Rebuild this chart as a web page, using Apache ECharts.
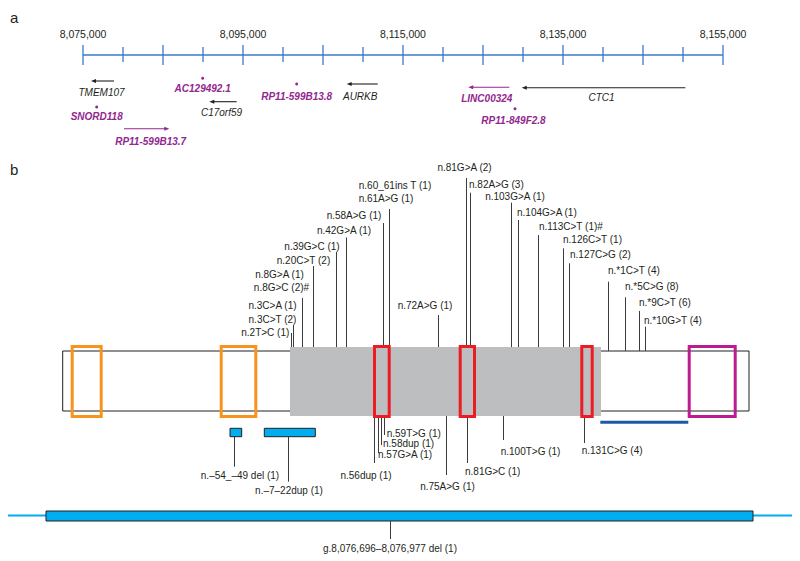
<!DOCTYPE html>
<html>
<head>
<meta charset="utf-8">
<script src="https://cdn.jsdelivr.net/npm/echarts@6/dist/echarts.min.js"></script>
<style>html,body{margin:0;padding:0;background:#fff}#c{width:800px;height:561px}</style>
</head>
<body>
<div id="c"></div>
<script>
// ================= DATA =================
// Panel a: genomic axis (chr17, bp)
const genomeMin = 8075000;
const genomeMax = 8155000;
const tickValues = [8075000, 8080000, 8085000, 8090000, 8095000, 8100000, 8105000, 8110000, 8115000,
                    8120000, 8125000, 8130000, 8135000, 8140000, 8145000, 8150000, 8155000];
const tickLabelValues = [8075000, 8095000, 8115000, 8135000, 8155000];
const tickLabels = ['8,075,000', '8,095,000', '8,115,000', '8,135,000', '8,155,000'];

// Genes (start/end in bp, strand, kind)
const geneNames  = ['TMEM107', 'SNORD118', 'RP11-599B13.7', 'AC129492.1', 'C17orf59',
                    'RP11-599B13.8', 'AURKB', 'LINC00324', 'CTC1', 'RP11-849F2.8'];
const geneStart  = [8076000, 8076710, 8080120, 8089960, 8090790, 8101710, 8107960, 8123160, 8129840, 8129000];
const geneEnd    = [8078880, 8076710, 8085790, 8089960, 8094210, 8101710, 8111840, 8128290, 8150290, 8129000];
const geneStrand = ['-', '.', '+', '.', '-', '.', '-', '-', '-', '.'];
const geneKind   = ['coding', 'nc', 'nc', 'nc', 'coding', 'nc', 'coding', 'nc', 'coding', 'nc'];

// Panel b: variants on the schematic transcript (schematic x positions)
const upperVariantPos = [291, 292.7, 301.7, 312.7, 336, 346, 382.7, 388.7, 437.7, 465.7,
                         469.7, 510.7, 517.7, 537.7, 563.3, 569, 608.3, 625, 639.3, 645.3];
const upperLabels = ['n.2T>C (1)', 'n.3C>T (2)', 'n.3C>A (1)', 'n.8G>C (2)#', 'n.8G>A (1)',
                     'n.20C>T (2)', 'n.39G>C (1)', 'n.42G>A (1)', 'n.58A>G (1)', 'n.61A>G (1)',
                     'n.60_61ins T (1)', 'n.72A>G (1)', 'n.81G>A (2)', 'n.82A>G (3)', 'n.103G>A (1)',
                     'n.104G>A (1)', 'n.113C>T (1)#', 'n.126C>T (1)', 'n.127C>G (2)', 'n.*1C>T (4)',
                     'n.*5C>G (8)', 'n.*9C>T (6)', 'n.*10G>T (4)'];
const lowerVariantPos = [374.3, 377.7, 381, 384.3, 446, 466.7, 502.7, 584, 234.3, 287.7];
const lowerLabels = ['n.56dup (1)', 'n.57G>A (1)', 'n.58dup (1)', 'n.59T>G (1)', 'n.75A>G (1)',
                     'n.81G>C (1)', 'n.100T>G (1)', 'n.131C>G (4)', 'n.\u201354_\u201349 del (1)', 'n.\u20137\u201322dup (1)'];
const bottomVariantPos = [390];
const bottomLabels = ['g.8,076,696\u20138,076,977 del (1)'];

// ================= LAYOUT (positions / styles) =================
const INK = '#231f20', PURPLE = '#92278f', STEM = '#3b3b3d';
const FONT = '"Liberation Sans", Arial, Helvetica, sans-serif';

const axisRowY = 55;
const geneRowY    = [81, 107, 128.7, 78.3, 101.7, 84, 84, 87.3, 87.7, 108.7];
const geneLabelY  = [92.3, 116.3, 141, 88.7, 112.7, 96, 96.7, 98.7, 97, 120];
const geneLabelDx = [-1, 0, 4, 0, -1.5, 0, -2, -2, -2, -1.5];

const upperStemTop  = [333, 325, 298, 266, 252, 237.5, 223, 209, 315, 178, 192.7, 202.7, 220, 235, 248.3, 263.3, 281.7, 297.3, 311, 326.7];
const upperStemBase = [347, 347, 347, 347, 347, 347, 345, 345, 347, 345, 345, 347, 347, 347, 347, 347, 351, 351, 351, 351];
const upperLabelX = [265.3, 272.5, 272.5, 281.5, 279.5, 303.5, 312, 344, 354, 386, 395, 425, 464.5,
                     469, 515, 517, 539, 563, 570, 608, 625, 639, 644];
const upperLabelAlign = ['center','center','center','center','center','center','center','center','center','center','center','center','center',
                         'left','center','left','left','left','left','left','left','left','left'];
const upperLabelY = [332, 319, 305, 287, 274, 260.5, 246, 230.5, 215, 198.5, 185, 305, 167, 184, 196, 212, 226, 239, 254.3, 270, 286, 302.3, 320.7];

const lowerStemTop = [418, 418, 418, 418, 416, 418, 416, 418, 436.7, 436.7];
const lowerStemEnd = [463, 453, 445, 435, 475, 463, 440, 443, 466.7, 481.7];
const lowerLabelX = [366, 378, 383, 386.7, 447.5, 465, 500.7, 581.7, 240, 289];
const lowerLabelAlign = ['center','left','left','left','center','left','left','left','center','center'];
const lowerLabelY = [475, 454, 443.5, 433.3, 486.7, 471, 451.7, 450, 475.7, 490.7];

// schematic boxes: [x1, x2, y1, y2]
const whiteBox  = [[62.7, 749, 351, 411]];
const grayBox   = [[290, 601, 347, 416]];
const orangeBox = [[72.2, 101.2, 346.5, 416.5], [221.2, 255.8, 346.5, 416.5]];
const redBox    = [[374.5, 389.2, 346.5, 416.5], [460.2, 474.5, 346.5, 416.5], [581.8, 592.2, 346.5, 416.5]];
const magentaBox= [[689.2, 735.2, 346.5, 416.5]];
const cyanSmall = [[230, 241.7, 428.3, 436.7], [264.3, 315.3, 428.3, 436.7]];
const blueBar   = [[600.3, 688.3, 422.3]];
const genomeLine= [[8, 792, 515.5]];
const delBox    = [[46, 753, 511, 521]];

// ================= CHART =================
const chart = echarts.init(document.getElementById('c'), null, {renderer: 'svg', width: 800, height: 561});

function textEl(x, y, text, opt) {
  return {
    type: 'text', x: x, y: y,
    style: Object.assign({
      text: text, fill: INK,
      font: (opt.style || '') + ' ' + (opt.weight || 'normal') + ' ' + (opt.size || 10) + 'px ' + FONT,
      align: opt.align || 'center', verticalAlign: 'middle',
      textAlign: opt.align || 'center', textVerticalAlign: 'middle'
    }, opt.fill ? {fill: opt.fill} : {})
  };
}

function rectSeries(items, style, gi) {
  return {
    type: 'custom', coordinateSystem: 'cartesian2d', xAxisIndex: gi, yAxisIndex: gi,
    silent: true, animation: false, clip: false,
    data: items.map(r => [r[0], r[2], r[1], r[3]]),
    renderItem: (p, api) => {
      const a = api.coord([api.value(0), api.value(1)]);
      const b = api.coord([api.value(2), api.value(3)]);
      return {type: 'rect', shape: {x: Math.min(a[0], b[0]), y: Math.min(a[1], b[1]),
              width: Math.abs(b[0] - a[0]), height: Math.abs(b[1] - a[1])}, style: style};
    }
  };
}

function hLineSeries(items, style, gi) {
  return {
    type: 'custom', coordinateSystem: 'cartesian2d', xAxisIndex: gi, yAxisIndex: gi,
    silent: true, animation: false, clip: false,
    data: items.map(r => [r[0], r[2], r[1]]),
    renderItem: (p, api) => {
      const a = api.coord([api.value(0), api.value(1)]);
      const b = api.coord([api.value(2), api.value(1)]);
      return {type: 'line', shape: {x1: a[0], y1: a[1], x2: b[0], y2: b[1]}, style: style};
    }
  };
}

// vertical stems: x value, y from, y to
function stemSeries(xs, y1s, y2s, style, gi) {
  return {
    type: 'custom', coordinateSystem: 'cartesian2d', xAxisIndex: gi, yAxisIndex: gi,
    silent: true, animation: false, clip: false,
    data: xs.map((x, i) => [x, y1s[i], y2s[i]]),
    renderItem: (p, api) => {
      const a = api.coord([api.value(0), api.value(1)]);
      const b = api.coord([api.value(0), api.value(2)]);
      const x = Math.round(a[0]) + 0.5;
      return {type: 'line', shape: {x1: x, y1: a[1], x2: x, y2: b[1]}, style: style};
    }
  };
}

function labelSeries(xs, ys, texts, aligns, opt, gi) {
  return {
    type: 'custom', coordinateSystem: 'cartesian2d', xAxisIndex: gi, yAxisIndex: gi,
    silent: true, animation: false, clip: false,
    data: xs.map((x, i) => [x, ys[i]]),
    renderItem: (p, api) => {
      const i = p.dataIndex;
      const a = api.coord([api.value(0), api.value(1)]);
      return textEl(a[0], a[1], texts[i], Object.assign({}, opt, {align: aligns ? aligns[i] : 'center'}));
    }
  };
}

const series = [];

// ---- Panel a ----
// axis line
series.push(hLineSeries([[genomeMin, genomeMax, axisRowY]], {stroke: '#3a7bc8', lineWidth: 1.5}, 0));
// ticks
series.push({
  type: 'custom', coordinateSystem: 'cartesian2d', xAxisIndex: 0, yAxisIndex: 0,
  silent: true, animation: false, clip: false,
  data: tickValues.map(v => [v, axisRowY]),
  renderItem: (p, api) => {
    const v = api.value(0);
    const major = (v - genomeMin) % 10000 === 0;
    const a = api.coord([v, axisRowY - (major ? 10 : 8)]);
    const b = api.coord([v, axisRowY + (major ? 10 : 7)]);
    const x = Math.round(a[0]);
    return {type: 'line', shape: {x1: x, y1: a[1], x2: x, y2: b[1]}, style: {stroke: '#3a7bc8', lineWidth: 1.3}};
  }
});
// tick labels
series.push(labelSeries(tickLabelValues, tickLabelValues.map(() => 34), tickLabels, null, {size: 10.5}, 0));
// genes
series.push({
  type: 'custom', coordinateSystem: 'cartesian2d', xAxisIndex: 0, yAxisIndex: 0,
  silent: true, animation: false, clip: false,
  data: geneStart.map((s, i) => [s, geneRowY[i], geneEnd[i]]),
  renderItem: (p, api) => {
    const i = p.dataIndex;
    const a = api.coord([api.value(0), api.value(1)]);
    const b = api.coord([api.value(2), api.value(1)]);
    const col = geneKind[i] === 'coding' ? INK : PURPLE;
    const mid = (a[0] + b[0]) / 2 + geneLabelDx[i];
    const ly = api.coord([api.value(0), geneLabelY[i]])[1];
    const label = textEl(mid, ly, geneNames[i], {
      style: 'italic', weight: geneKind[i] === 'coding' ? 'normal' : 'bold', size: 10, fill: col
    });
    if (geneStrand[i] === '.') {
      return {type: 'group', children: [
        {type: 'circle', shape: {cx: a[0], cy: a[1], r: 1.5}, style: {fill: col}},
        label
      ]};
    }
    const tail = geneStrand[i] === '-' ? b : a;
    const head = geneStrand[i] === '-' ? a : b;
    const dir = Math.sign(head[0] - tail[0]);
    return {type: 'group', children: [
      {type: 'line', shape: {x1: tail[0], y1: tail[1], x2: head[0] - dir * 3, y2: head[1]}, style: {stroke: col, lineWidth: 1.1}},
      {type: 'polygon', shape: {points: [[head[0], head[1]], [head[0] - dir * 5, head[1] - 2], [head[0] - dir * 5, head[1] + 2]]}, style: {fill: col}},
      label
    ]};
  }
});

// ---- Panel b ----
series.push(rectSeries(whiteBox, {fill: '#ffffff', stroke: INK, lineWidth: 1}, 1));
series.push(rectSeries(grayBox, {fill: '#bcbec0'}, 1));
series.push(stemSeries(upperVariantPos, upperStemTop, upperStemBase, {stroke: STEM, lineWidth: 1}, 1));
series.push(stemSeries(lowerVariantPos, lowerStemTop, lowerStemEnd, {stroke: STEM, lineWidth: 1}, 1));
series.push(rectSeries(orangeBox, {fill: 'none', stroke: '#f7941d', lineWidth: 3}, 1));
series.push(rectSeries(redBox, {fill: 'none', stroke: '#ed1c24', lineWidth: 3}, 1));
series.push(rectSeries(magentaBox, {fill: 'none', stroke: '#bc1c8f', lineWidth: 3}, 1));
series.push(hLineSeries(blueBar, {stroke: '#1c5aa8', lineWidth: 3}, 1));
series.push(rectSeries(cyanSmall, {fill: '#00aeef', stroke: INK, lineWidth: 1}, 1));
series.push(labelSeries(upperLabelX, upperLabelY, upperLabels, upperLabelAlign, {size: 10}, 1));
series.push(labelSeries(lowerLabelX, lowerLabelY, lowerLabels, lowerLabelAlign, {size: 10}, 1));

// genome-level deletion
series.push(hLineSeries(genomeLine, {stroke: '#00aeef', lineWidth: 2}, 1));
series.push(rectSeries(delBox, {fill: '#00aeef', stroke: INK, lineWidth: 1}, 1));
series.push(stemSeries(bottomVariantPos, [521], [539], {stroke: STEM, lineWidth: 1}, 1));
series.push(labelSeries(bottomVariantPos, [548], bottomLabels, null, {size: 10}, 1));

// panel letters
series.push(labelSeries([10, 10], [17.5, 169], ['a', 'b'], ['left', 'left'], {size: 15}, 1));

chart.setOption({
  animation: false,
  backgroundColor: '#ffffff',
  grid: [
    {left: 83, width: 640, top: 0, height: 561},
    {left: 0, width: 800, top: 0, height: 561}
  ],
  xAxis: [
    {gridIndex: 0, type: 'value', min: genomeMin, max: genomeMax, show: false},
    {gridIndex: 1, type: 'value', min: 0, max: 800, show: false}
  ],
  yAxis: [
    {gridIndex: 0, type: 'value', min: 0, max: 561, inverse: true, show: false},
    {gridIndex: 1, type: 'value', min: 0, max: 561, inverse: true, show: false}
  ],
  series: series
});
</script>
</body>
</html>
